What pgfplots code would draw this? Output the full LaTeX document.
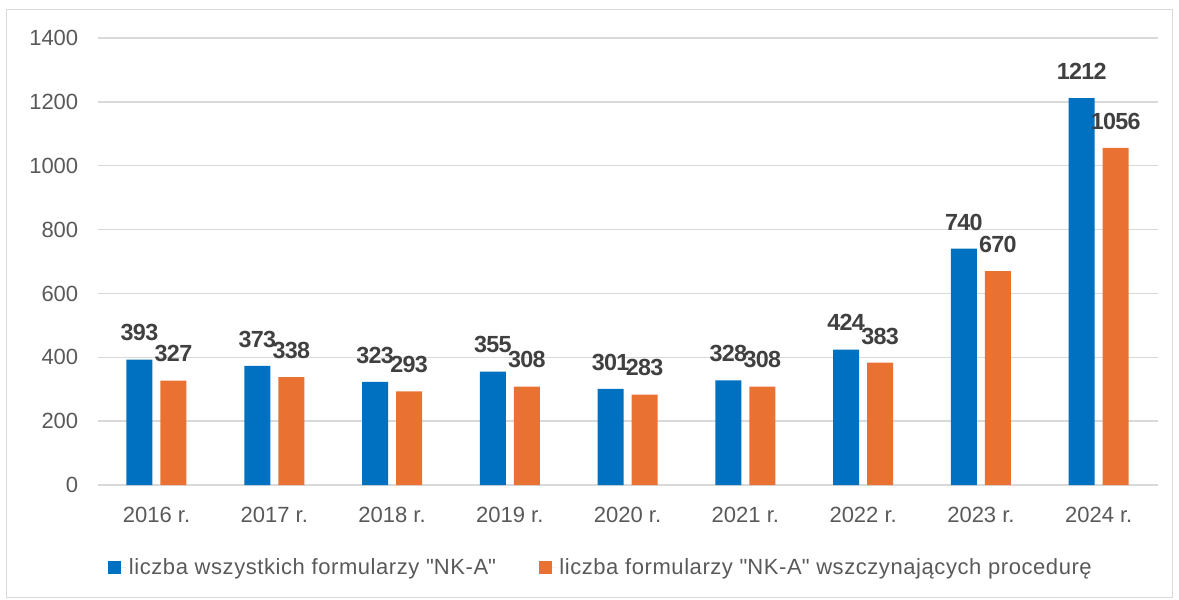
\documentclass[border=0pt]{standalone}
\usepackage{fontspec}
\setmainfont{Liberation Sans}
\newfontfamily\legfont{Liberation Sans}[LetterSpace=2.6]
\newfontfamily\labfont{Liberation Sans}[LetterSpace=-3]
\usepackage{pgfplots}
\pgfplotsset{compat=1.18}
\definecolor{cblue}{HTML}{0070C0}
\definecolor{corange}{HTML}{E97132}
\definecolor{gridc}{HTML}{D9D9D9}
\definecolor{tickc}{HTML}{595959}
\definecolor{labc}{HTML}{404040}
\begin{document}
\begin{tikzpicture}
\begin{axis}[
  at={(0pt,0pt)}, anchor=south west,
  scale only axis, width=795pt, height=335.25pt,
  xmin=-0.5, xmax=8.5, ymin=0, ymax=1400,
  ytick={0,200,...,1400},
  xtick={0,...,8},
  xticklabels={2016 r.,2017 r.,2018 r.,2019 r.,2020 r.,2021 r.,2022 r.,2023 r.,2024 r.},
  axis line style={draw=none},
  ymajorgrids, grid style={gridc, line width=1pt},
  major tick length=0pt,
  /pgf/number format/assume math mode=true,
  /pgf/number format/1000 sep={},
  tick label style={font=\fontsize{16.5}{18}\selectfont, text=tickc},
  yticklabel style={anchor=east, xshift=-11pt},
  xticklabel style={anchor=base, yshift=-27.75pt},
  ybar=0pt, bar width=19.5pt,
  nodes near coords,
  nodes near coords style={font=\labfont\bfseries\fontsize{17.5}{19}\selectfont, text=labc, anchor=base, inner sep=0pt, yshift=14pt},
  legend columns=2,
  legend image code/.code={\fill[#1] (0pt,-4.875pt) rectangle (9.75pt,4.875pt); \path (0pt,0pt) -- (13.5pt,0pt);},
  legend style={at={(0.0098,-0.1846)}, anchor=west, draw=none, fill=none, inner sep=0pt,
    font=\legfont\fontsize{16.5}{18}\selectfont, text=tickc,
    /tikz/every even column/.append style={column sep=30pt}},
]
\addplot[fill=cblue, draw=none, bar shift=-12.75pt] coordinates {
 (0,393) (1,373) (2,323) (3,355) (4,301) (5,328) (6,424) (7,740) (8,1212)};
\addlegendentry{liczba wszystkich formularzy \textquotedbl NK-A\textquotedbl}
\addplot[fill=corange, draw=none, bar shift=12.75pt] coordinates {
 (0,327) (1,338) (2,293) (3,308) (4,283) (5,308) (6,383) (7,670) (8,1056)};
\addlegendentry{liczba formularzy \textquotedbl NK-A\textquotedbl\ wszczynających procedurę}
\end{axis}
\draw[gridc, line width=0.75pt] (-67.95pt,-84pt) rectangle (805.8pt,356.25pt);
\pgfresetboundingbox
\path[use as bounding box] (-73.2pt,-86.25pt) rectangle (811.05pt,363.75pt);
\end{tikzpicture}
\end{document}
